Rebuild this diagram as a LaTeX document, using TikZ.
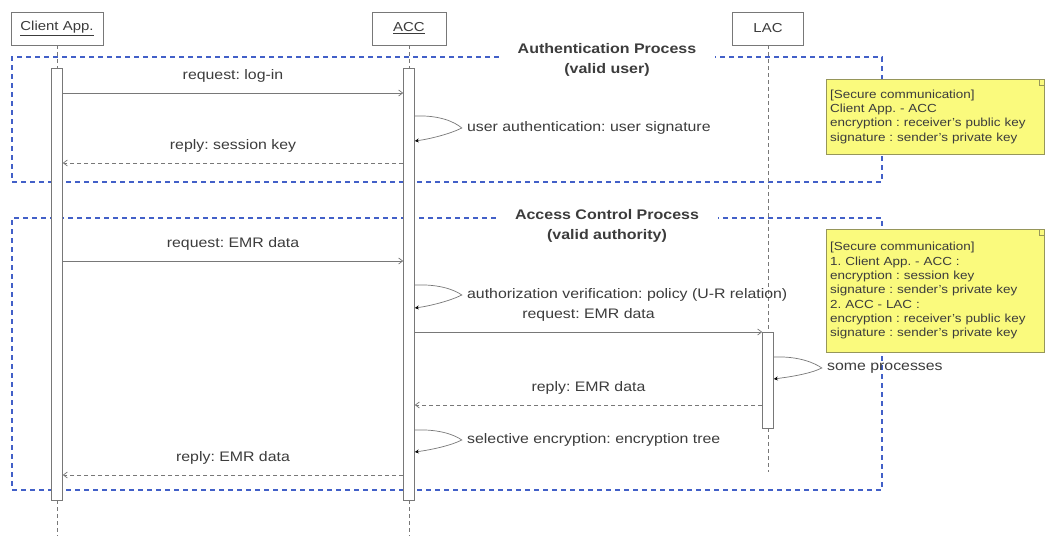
\documentclass[tikz,border=0pt]{standalone}
\usepackage{fontspec}
\setmainfont{Liberation Sans}[FakeStretch=1.15]
\usetikzlibrary{arrows.meta,positioning,calc}
\frenchspacing

\definecolor{frameblue}{RGB}{66,96,200}
\definecolor{noteyellow}{RGB}{250,250,125}
\definecolor{noteline}{RGB}{150,150,90}
\definecolor{linegray}{RGB}{120,120,120}
\definecolor{txtgray}{RGB}{60,60,60}

\begin{document}
\begin{tikzpicture}[x=1pt,y=-1pt,
    actor/.style={draw=linegray, fill=white, minimum height=33pt, inner sep=2pt, font=\fontsize{13}{15}\selectfont, text=txtgray},
    lifeline/.style={draw=linegray, line width=0.6pt, dash pattern=on 4pt off 3pt},
    activation/.style={draw=linegray, fill=white, line width=0.6pt, minimum width=11pt, inner sep=0pt},
    msg/.style={draw=linegray, line width=0.7pt, -{Straight Barb[length=4pt,width=6pt]}},
    reply/.style={msg, dash pattern=on 4pt off 3pt},
    selfcall/.style={draw=linegray, line width=0.7pt, -{Stealth[length=4pt,width=4pt,color=black]}},
    msglabel/.style={font=\fontsize{13.8}{16}\selectfont, text=txtgray, inner sep=1pt},
    procframe/.style={draw=frameblue, line width=2.8pt, dash pattern=on 5pt off 4pt},
    proctitle/.style={font=\fontsize{13.9}{20}\selectfont\bfseries, text=txtgray, align=center, inner sep=0pt},
    note/.style={draw=noteline, fill=noteyellow, anchor=north west, text width=210pt, align=left, inner sep=4pt, font=\fontsize{11.7}{14.3}\selectfont, text=txtgray}]

\useasboundingbox[fill=white] (0,0) rectangle (1047,536);

% process frames
\node[proctitle] (authtitle) at (607,60) {Authentication Process\\(valid user)};
\draw[procframe] ($(authtitle.west |- 0,57)+(-19,0)$) -- (12,57) -- (12,182) -- (882,182) -- (882,57) -- ($(authtitle.east |- 0,57)+(19,0)$);
\node[proctitle] (acctitle) at (607,225.5) {Access Control Process\\(valid authority)};
\draw[procframe] ($(acctitle.west |- 0,218)+(-19,0)$) -- (12,218) -- (12,490) -- (882,490) -- (882,218) -- ($(acctitle.east |- 0,218)+(19,0)$);

% objects and lifelines
\node[actor, minimum width=92pt] (client) at (57,28.5) {\underline{Client App.}};
\node[actor, minimum width=74pt] (acc) at (409,28.5) {\underline{ACC}};
\node[actor, minimum width=71pt] (lac) at (768,28.5) {LAC};

\node[activation, minimum height=432pt] (clientbar) at (57,284) {};
\node[activation, minimum height=432pt] (accbar) at (409,284) {};
\node[activation, minimum height=96pt] (lacbar) at (768,380) {};

\draw[lifeline] (client.south) -- (clientbar.north);
\draw[lifeline] (clientbar.south) -- (client.south |- 0,536);
\draw[lifeline] (acc.south) -- (accbar.north);
\draw[lifeline] (accbar.south) -- (acc.south |- 0,536);
\draw[lifeline] (lac.south) -- (lacbar.north);
\draw[lifeline] (lacbar.south) -- (lac.south |- 0,472);

% redraw bars over the lifelines
\node[activation, minimum height=432pt] at (clientbar) {};
\node[activation, minimum height=432pt] at (accbar) {};
\node[activation, minimum height=96pt] at (lacbar) {};

% authentication
\draw[msg] (clientbar.east |- 0,93) -- node[msglabel, midway, above=9pt] (loginlbl) {request: log-in} (accbar.west |- 0,93);
\draw[selfcall] (accbar.east |- 0,116) .. controls +(25,-1) and +(-7,-6) .. ++(47,12)
    node[msglabel, right=4pt] (authlbl) {user authentication: user signature}
    .. controls +(-12,6) and +(15,-2) .. (accbar.east |- 0,141);
\draw[reply] (accbar.west |- 0,163) -- node[msglabel, midway, above=9pt] (keylbl) {reply: session key} (clientbar.east |- 0,163);

% access control
\draw[msg] (clientbar.east |- 0,261) -- node[msglabel, midway, above=9pt] (emrreqlbl) {request: EMR data} (accbar.west |- 0,261);
\draw[selfcall] (accbar.east |- 0,285) .. controls +(25,-1) and +(-7,-5) .. ++(47,10)
    node[msglabel, right=4pt] (verifylbl) {authorization verification: policy (U-R relation)}
    .. controls +(-12,6) and +(15,-2) .. (accbar.east |- 0,308);
\draw[msg] (accbar.east |- 0,332) -- node[msglabel, midway, above=9pt] (lacreqlbl) {request: EMR data} (lacbar.west |- 0,332);
\draw[selfcall] (lacbar.east |- 0,357) .. controls +(25,-1) and +(-7,-5) .. ++(48,11)
    node[msglabel, right=4pt] (proclbl) {some processes}
    .. controls +(-12,6) and +(15,-2) .. (lacbar.east |- 0,379);
\draw[reply] (lacbar.west |- 0,405) -- node[msglabel, midway, above=9pt] (lacreplbl) {reply: EMR data} (accbar.east |- 0,405);
\draw[selfcall] (accbar.east |- 0,430) .. controls +(25,-1) and +(-7,-5) .. ++(47,10)
    node[msglabel, right=4pt] (enclbl) {selective encryption: encryption tree}
    .. controls +(-12,6) and +(15,-2) .. (accbar.east |- 0,452);
\draw[reply] (accbar.west |- 0,475) -- node[msglabel, midway, above=9pt] (emrreplbl) {reply: EMR data} (clientbar.east |- 0,475);

% notes
\node[note, minimum height=75pt] (note1) at (826,79) {[Secure communication]\\Client App. - ACC\\encryption : receiver's public key\\signature : sender's private key};
\draw[noteline] ($(note1.north east)+(-5,0)$) |- ($(note1.north east)+(0,6)$);
\node[note, minimum height=123pt] (note2) at (826,229) {[Secure communication]\\1. Client App. - ACC :\\encryption : session key\\signature : sender's private key\\2. ACC - LAC :\\encryption : receiver's public key\\signature : sender's private key};
\draw[noteline] ($(note2.north east)+(-5,0)$) |- ($(note2.north east)+(0,6)$);
\end{tikzpicture}
\end{document}
